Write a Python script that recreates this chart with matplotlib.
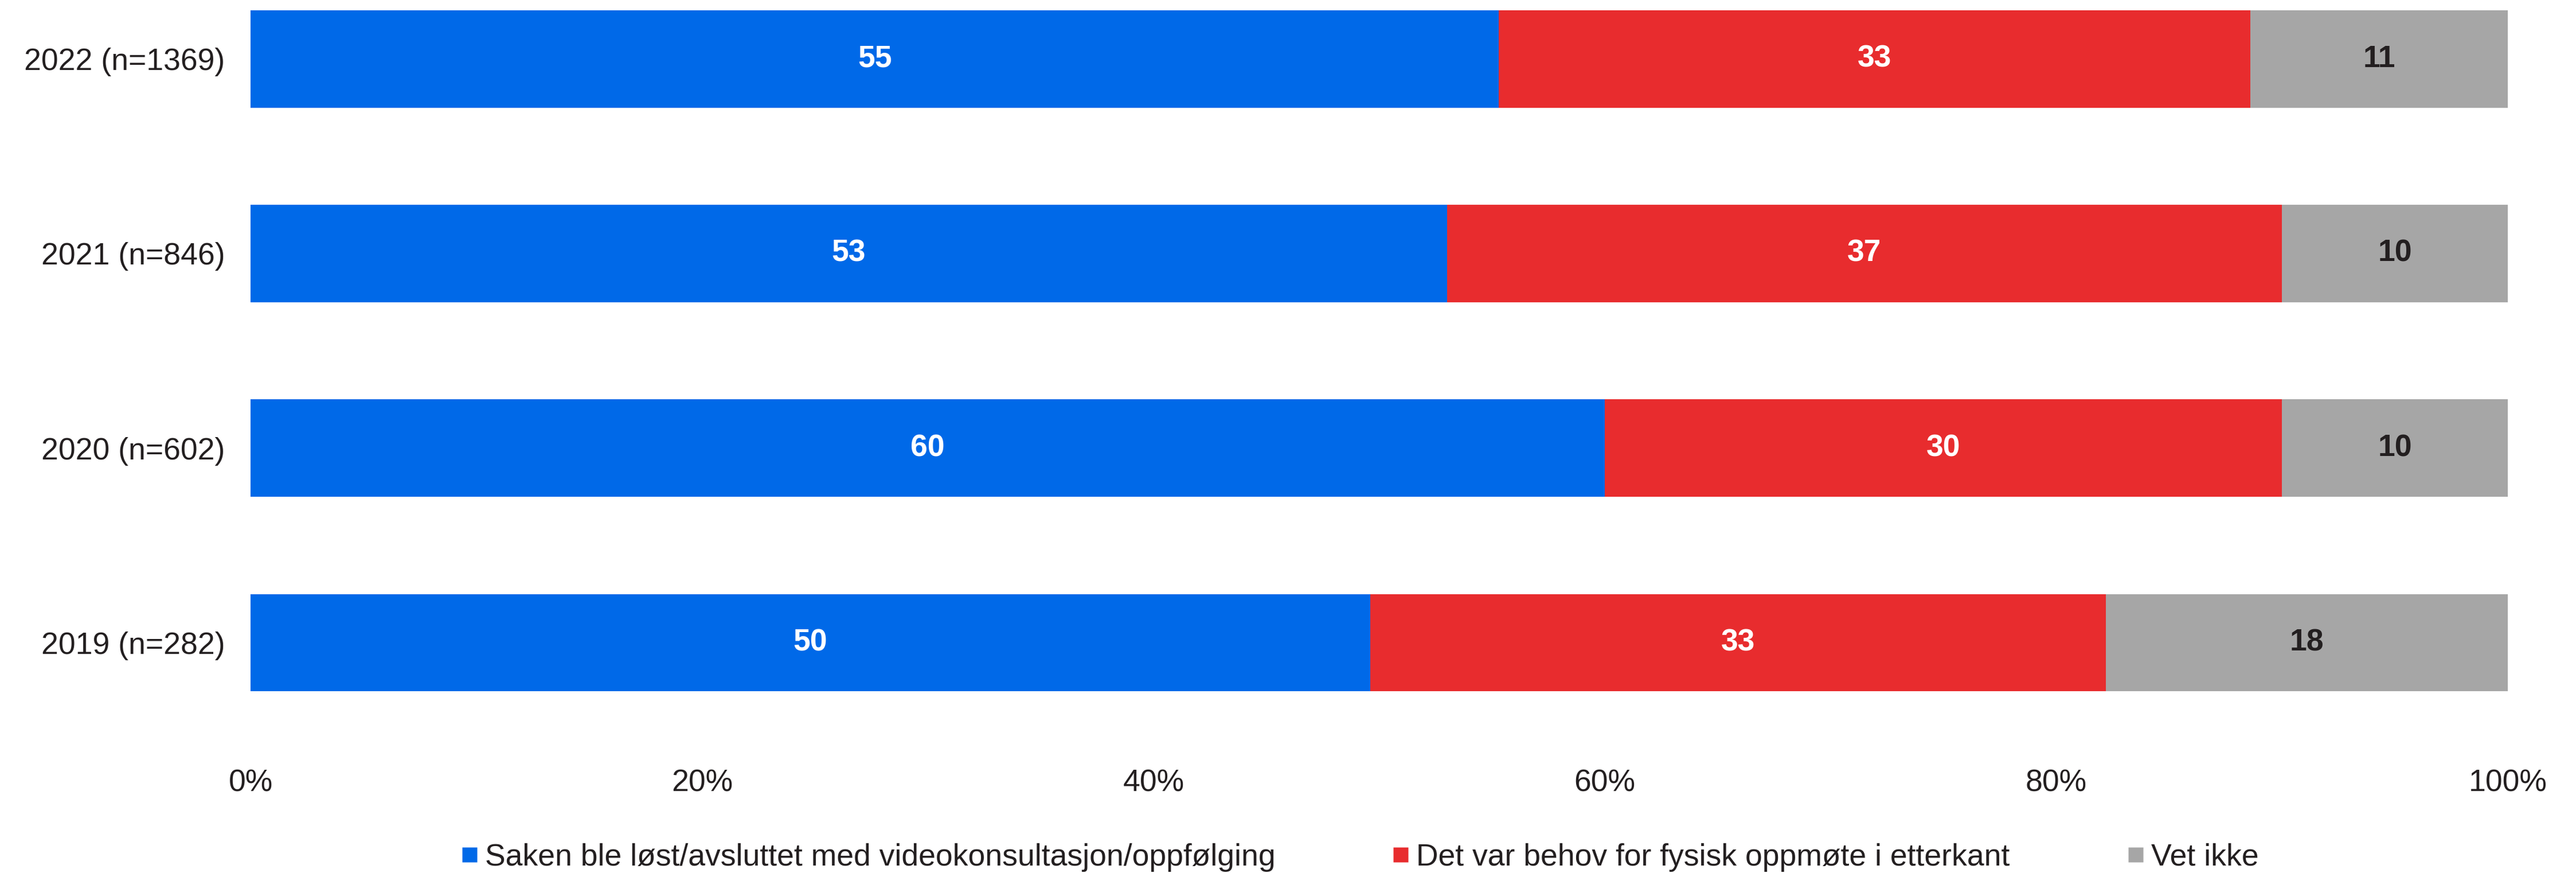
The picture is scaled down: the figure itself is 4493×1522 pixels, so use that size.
import matplotlib
matplotlib.use('Agg')
import matplotlib.pyplot as plt
from matplotlib.lines import Line2D
import numpy as np

plt.rcParams['font.family'] = ['Liberation Sans', 'DejaVu Sans']

# survey years, bottom to top
years = ['2019 (n=282)', '2020 (n=602)', '2021 (n=846)', '2022 (n=1369)']
series = ['Saken ble løst/avsluttet med videokonsultasjon/oppfølging',
          'Det var behov for fysisk oppmøte i etterkant',
          'Vet ikke']
solved = [49.6, 60.0, 53.0, 55.3]
physical = [32.6, 30.0, 37.0, 33.3]
unknown = [17.8, 10.0, 10.0, 11.4]
xticks = [0, 20, 40, 60, 80, 100]

colors = ['#0069e8', '#e82c2e', '#a6a6a6']
label_colors = ['white', 'white', '#231f20']
txt = '#231f20'
fs = 38.5

fig = plt.figure(figsize=(44.93, 15.22), dpi=100)
ax = fig.add_axes([0.0973, 0.1524, 0.8762, 0.8456])

y = np.arange(len(years))
left = np.zeros(len(years))
for vals, c, lc in zip([solved, physical, unknown], colors, label_colors):
    vals = np.array(vals)
    ax.barh(y, vals, left=left, height=0.5, color=c, edgecolor='none')
    for yi, l, v in zip(y, left, vals):
        ax.text(l + v / 2, yi, '%.0f' % v, ha='center', va='center',
                color=lc, fontsize=fs, fontweight='bold')
    left += vals

ax.set_xlim(0, 100)
ax.set_ylim(-0.5, 3.294)
ax.set_yticks(y)
ax.set_yticklabels(years)
ax.set_xticks(xticks)
ax.set_xticklabels(['%d%%' % t for t in xticks])
ax.tick_params(axis='y', length=0, pad=32, labelsize=fs, labelcolor=txt)
ax.tick_params(axis='x', length=0, pad=36, labelsize=fs, labelcolor=txt)
for s in ax.spines.values():
    s.set_visible(False)

handles = [Line2D([], [], marker='s', linestyle='none', markersize=19,
                  markerfacecolor=c, markeredgecolor='none') for c in colors]
fig.legend(handles, series, loc='lower center', bbox_to_anchor=(0.528, -0.03),
           ncol=3, frameon=False, fontsize=fs, labelcolor=txt,
           handlelength=0.5, handletextpad=0.25, columnspacing=3.85)

fig.savefig('out.png', dpi=100)
